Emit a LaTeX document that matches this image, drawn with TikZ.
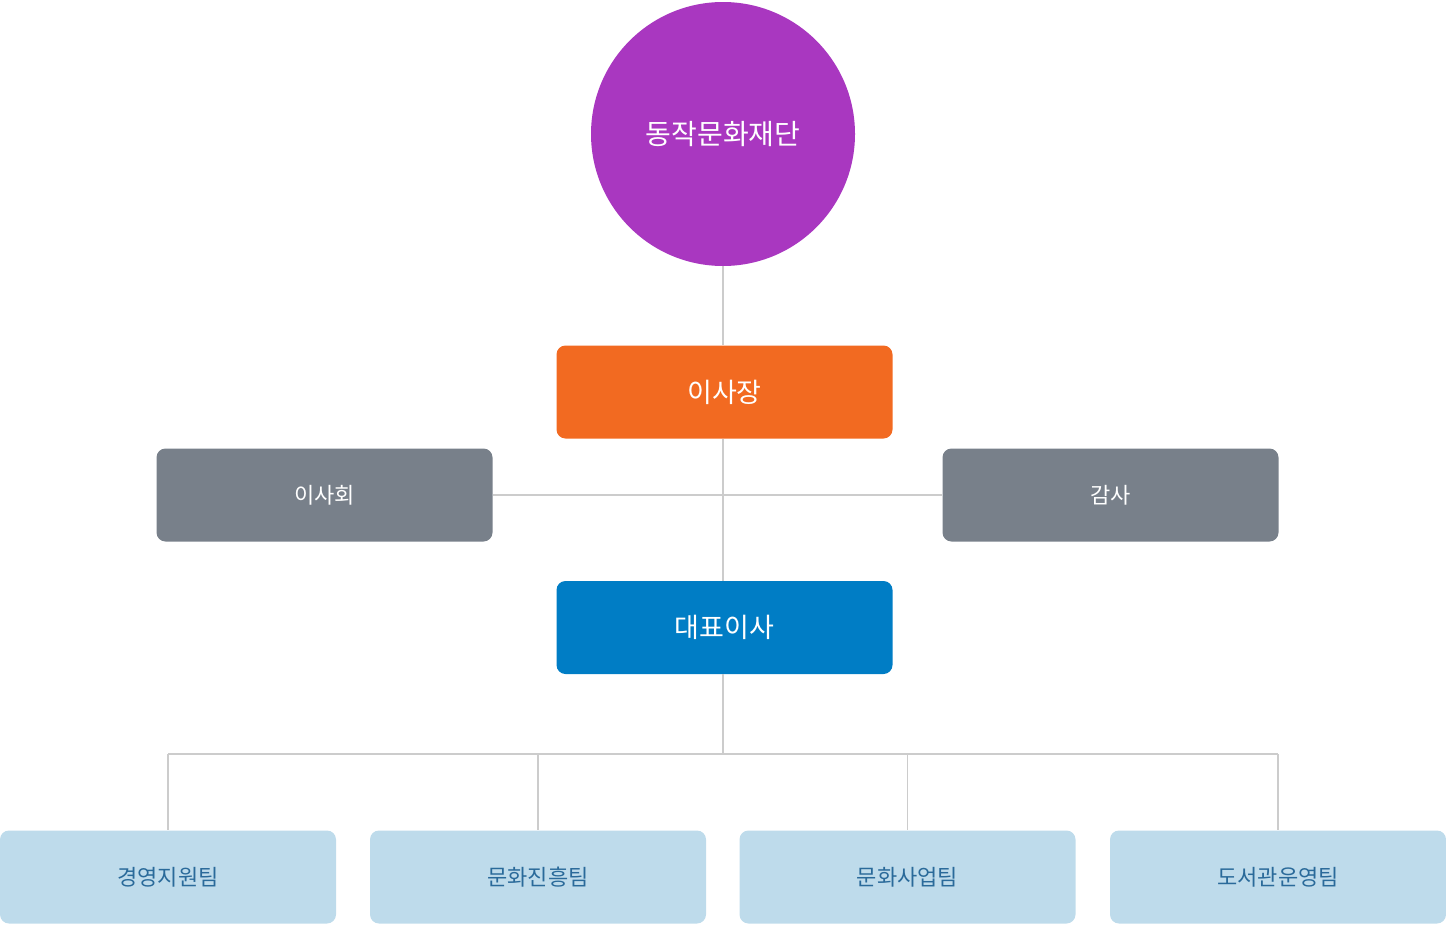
\documentclass[tikz,border=0pt]{standalone}
\usepackage{fontspec}
\newfontfamily\kr{Noto Sans CJK KR}
\usetikzlibrary{positioning}
\definecolor{foundpurple}{HTML}{A937C0}
\definecolor{chairorange}{HTML}{F26A21}
\definecolor{boardgray}{HTML}{78808A}
\definecolor{ceoblue}{HTML}{007DC5}
\definecolor{teamblue}{HTML}{BEDBEB}
\definecolor{teamtext}{HTML}{2A6A9A}
\definecolor{linegray}{HTML}{CCCCCC}
\tikzset{
  box/.style={rounded corners=9pt, minimum width=336pt, minimum height=93pt, inner sep=0pt, font=\kr\fontsize{22}{26}\selectfont, text=white},
  team/.style={box, fill=teamblue, text=teamtext},
  link/.style={draw=linegray, line width=1.2pt}
}
\begin{document}
\begin{tikzpicture}[x=1pt,y=-1pt]
  \useasboundingbox (0,0) rectangle (1446,937);

  \node[circle, fill=foundpurple, minimum size=264pt, text=white, font=\kr\fontsize{28}{32}\selectfont] (found) at (723,134) {동작문화재단};
  \node[box, fill=chairorange, font=\kr\fontsize{27}{32}\selectfont] (chair) at (724.5,392) {이사장};
  \node[box, fill=boardgray] (board) at (324.5,495) {이사회};
  \node[box, fill=boardgray] (audit) at (1110.5,495) {감사};
  \node[box, fill=ceoblue, font=\kr\fontsize{27}{32}\selectfont] (ceo) at (724.5,627.5) {대표이사};

  \node[team] (t1) at (168,877) {경영지원팀};
  \node[team] (t2) at (538,877) {문화진흥팀};
  \node[team] (t3) at (907.5,877) {문화사업팀};
  \node[team] (t4) at (1278,877) {도서관운영팀};

  \coordinate (mid) at (723,495);
  \coordinate (split) at (723,754);

  \begin{scope}[on background layer/.style={}]
  \draw[link] (found.south) -- (chair.north -| found.south);
  \draw[link] (chair.south -| found.south) -- (ceo.north -| found.south);
  \draw[link] (board.east) -- (audit.west);
  \draw[link] (ceo.south -| found.south) -- (split);
  \draw[link] (t1.north |- split) -- (t4.north |- split);
  \foreach \t in {t1,t2,t3,t4}
    \draw[link] (\t.north |- split) -- (\t.north);
  \end{scope}
\end{tikzpicture}
\end{document}
